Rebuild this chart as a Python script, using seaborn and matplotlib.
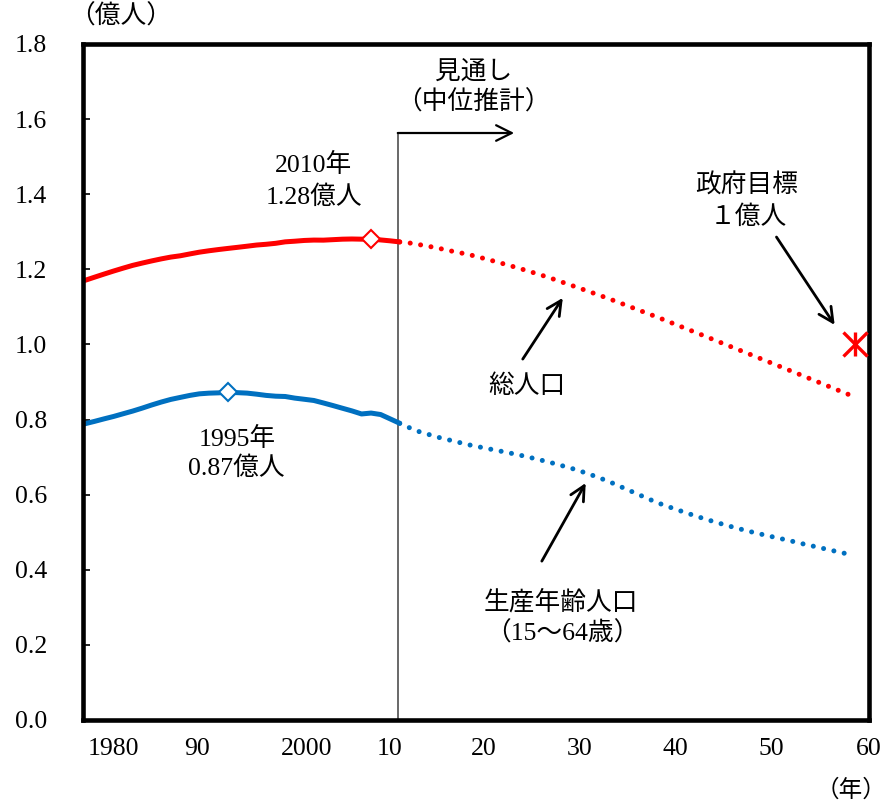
"""
Japan population outlook: total vs working-age population (億人)
Output : out.png
"""

import numpy as np
import pandas as pd
import matplotlib
matplotlib.use('Agg')
import matplotlib.pyplot as plt
from matplotlib import font_manager
import seaborn as sns

# ── Colours ───────────────────────────────────────────────────
RED  = '#FF0000'
BLUE = '#0070C0'
INK  = '#000000'
VLINE = '#404040'

# ── Data (億人) ───────────────────────────────────────────────
hist_years = list(range(1980, 2014))
hist_total = [1.1706, 1.1790, 1.1873, 1.1954, 1.2031, 1.2105, 1.2166, 1.2224,
              1.2278, 1.2326, 1.2361, 1.2410, 1.2457, 1.2494, 1.2527, 1.2557,
              1.2586, 1.2616, 1.2647, 1.2667, 1.2693, 1.2732, 1.2749, 1.2769,
              1.2779, 1.2777, 1.2790, 1.2803, 1.2808, 1.2803, 1.2806, 1.2783,
              1.2759, 1.2730]
hist_work = [0.7888, 0.7951, 0.8018, 0.8082, 0.8154, 0.8225, 0.8304, 0.8388,
             0.8466, 0.8536, 0.8590, 0.8643, 0.8685, 0.8703, 0.8711, 0.8726,
             0.8716, 0.8704, 0.8676, 0.8643, 0.8622, 0.8614, 0.8571, 0.8540,
             0.8508, 0.8442, 0.8373, 0.8301, 0.8230, 0.8149, 0.8173, 0.8134,
             0.8018, 0.7901]

proj_years = list(range(2013, 2061))
proj_total = [1.2730, 1.2703, 1.2660, 1.2615, 1.2565, 1.2511, 1.2454, 1.2410,
              1.2345, 1.2279, 1.2210, 1.2139, 1.2066, 1.1991, 1.1913, 1.1834,
              1.1750, 1.1662, 1.1574, 1.1485, 1.1395, 1.1304, 1.1212, 1.1115,
              1.1018, 1.0921, 1.0824, 1.0728, 1.0626, 1.0525, 1.0423, 1.0322,
              1.0221, 1.0118, 1.0015, 0.9912, 0.9810, 0.9708, 0.9605, 0.9502,
              0.9399, 0.9296, 0.9193, 0.9089, 0.8985, 0.8881, 0.8777, 0.8674]
proj_work = [0.7901, 0.7785, 0.7682, 0.7606, 0.7530, 0.7468, 0.7406, 0.7341,
             0.7288, 0.7238, 0.7187, 0.7137, 0.7085, 0.7030, 0.6970, 0.6908,
             0.6843, 0.6773, 0.6702, 0.6622, 0.6535, 0.6441, 0.6343, 0.6231,
             0.6120, 0.6008, 0.5897, 0.5787, 0.5695, 0.5606, 0.5519, 0.5435,
             0.5353, 0.5277, 0.5203, 0.5132, 0.5065, 0.5001, 0.4941, 0.4883,
             0.4826, 0.4769, 0.4706, 0.4649, 0.4591, 0.4533, 0.4475, 0.4418]

peak_work_year, peak_work = 1995, 0.8726
mark_total_year, mark_total = 2010, 1.2806
target_year, target_value = 2060, 1.0

tick_labels = ['1980', '90', '2000', '10', '20', '30', '40', '50', '60']
y_ticks = [0.0, 0.2, 0.4, 0.6, 0.8, 1.0, 1.2, 1.4, 1.6, 1.8]

hist = pd.DataFrame({'year': hist_years, 'total': hist_total, 'work': hist_work})
proj = pd.DataFrame({'year': proj_years, 'total': proj_total, 'work': proj_work})

# ── Style ─────────────────────────────────────────────────────
sns.set_style('white')
installed = {f.name for f in font_manager.fontManager.ttflist}
serif = [n for n in ['Liberation Serif', 'DejaVu Serif'] if n in installed]
plt.rcParams['font.family'] = serif[:1] + ['Noto Sans CJK JP']
FS = 18.5

fig = plt.figure(figsize=(8.94, 8.08), dpi=100, facecolor='white')
ax = fig.add_axes([83 / 894, 88 / 808, 786 / 894, 676 / 808])

# ── Lines ─────────────────────────────────────────────────────
DOTS = (0, (0.01, 2.1))
for col, c in [('total', RED), ('work', BLUE)]:
    sns.lineplot(data=hist, x='year', y=col, color=c, lw=3.6, ax=ax,
                 solid_capstyle='round')
    sns.lineplot(data=proj, x='year', y=col, color=c, lw=3.6, ax=ax,
                 linestyle=DOTS, dash_capstyle='round')

# diamond markers
ax.plot([mark_total_year], [mark_total], marker='D', ms=9, mfc='white',
        mec=RED, mew=1.5, ls='none', zorder=5)
ax.plot([peak_work_year], [peak_work], marker='D', ms=9, mfc='white',
        mec=BLUE, mew=1.5, ls='none', zorder=5)

# government target (asterisk)
for m in ['x', '|']:
    ax.plot([target_year + 0.7], [target_value], marker=m, ms=17, mew=2.4,
            color=RED, ls='none', zorder=5)

# projection boundary + arrow
ax.plot([2012.8, 2012.8], [0, 1.563], color=VLINE, lw=1.1, zorder=1)
ax.annotate('', xy=(2025.0, 1.563), xytext=(2012.8, 1.563),
            arrowprops=dict(arrowstyle='->', lw=1.6, color=INK,
                            mutation_scale=28, shrinkA=0, shrinkB=0))

# ── Axes ──────────────────────────────────────────────────────
ax.set_xlim(1979.8, 2062.2)
ax.set_ylim(0, 1.8)
ax.set_xlabel('')
ax.set_ylabel('')

ax.set_xticks([1983.0, 1991.7, 2003.2, 2011.9, 2021.8, 2031.9, 2041.9, 2052.0, 2062.2])
ax.set_xticklabels(tick_labels)
ax.set_yticks(y_ticks)
ax.set_yticklabels([f'{v:.1f}' for v in y_ticks])
ax.tick_params(axis='x', length=0, pad=13, labelsize=FS, colors=INK)
ax.tick_params(axis='y', direction='in', length=5, width=1.2, pad=26,
               labelsize=FS, colors=INK, left=True)

for s in ax.spines.values():
    s.set_visible(True)
    s.set_color(INK)
    s.set_linewidth(3.3)

# ── Annotations ───────────────────────────────────────────────
def note(x, y, s):
    ax.text(x, y, s, ha='center', va='center', fontsize=FS, color=INK)

note(2020.8, 1.725, '見通し')
note(2020.7, 1.645, '（中位推計）')
note(2004.0, 1.478, '2010年')
note(2004.0, 1.392, '1.28億人')
note(1996.0, 0.748, '1995年')
note(1995.9, 0.671, '0.87億人')
note(2049.4, 1.424, '政府目標')
note(2049.5, 1.339, '１億人')
note(2026.3, 0.889, '総人口')
note(2029.9, 0.314, '生産年齢人口')
note(2030.0, 0.232, '（15～64歳）')

arrow = dict(arrowstyle='->', lw=2, color=INK, mutation_scale=26,
             shrinkA=0, shrinkB=0)
ax.annotate('', xy=(2030.1, 1.124), xytext=(2025.9, 0.961), arrowprops=arrow)
ax.annotate('', xy=(2032.5, 0.631), xytext=(2027.9, 0.423), arrowprops=arrow)
ax.annotate('', xy=(2058.6, 1.052), xytext=(2052.5, 1.286), arrowprops=arrow)

fig.text(121 / 894, 1 - 16 / 808, '（億人）', ha='center', va='center',
         fontsize=FS, color=INK)
fig.text(886 / 894, 6 / 808, '（年）', ha='right', va='bottom',
         fontsize=17, color=INK)

plt.savefig('out.png', dpi=100, facecolor='white')
print("Saved → out.png")
